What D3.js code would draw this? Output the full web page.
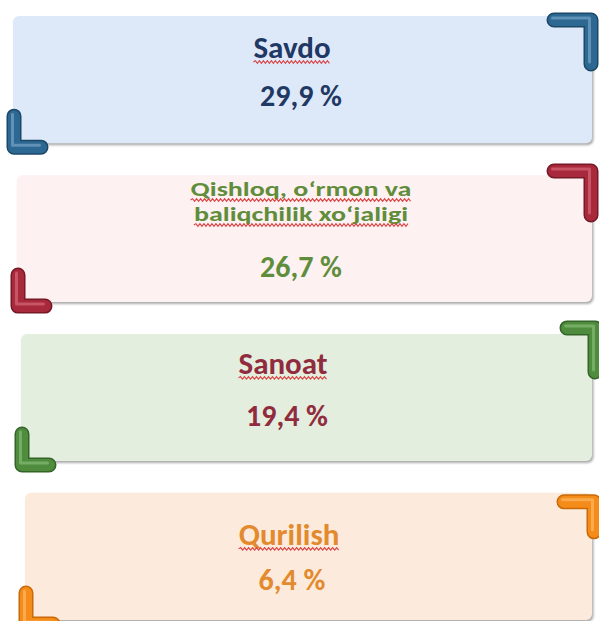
<!DOCTYPE html>
<html>
<head>
<meta charset="utf-8">
<script src="https://cdn.jsdelivr.net/npm/d3@7"></script>
<style>
  html, body { margin: 0; padding: 0; background: #fff; }
  svg { display: block; }
  text { font-family: Carlito, Lato, "Open Sans", sans-serif; font-weight: 700; }
</style>
</head>
<body>
<svg id="chart" width="599" height="621"></svg>
<script>
// sector names and their shares, %
const sectors = ["Savdo", "Qishloq, o‘rmon va\nbaliqchilik xo‘jaligi", "Sanoat", "Qurilish"];
const shares = [29.9, 26.7, 19.4, 6.4];

// colours per card
const fills = ["#dde9f8", "#fdf1f1", "#e3eedf", "#fcebdc"];
const accents = ["#2c6892", "#a8293b", "#4f8c3d", "#f58b18"];
const accentDark = ["#1c4868", "#761a27", "#346428", "#c86a08"];
const accentLight = ["#8ab4d4", "#e27a88", "#95c886", "#ffc77a"];
const textColors = ["#1f3864", "#5f8d3b", "#902c3d", "#e38a2e"];

// small per-card tweaks (text baselines, corner placement)
const layout = [
    { title: [42], value: 90, tx: 292, vx: 301, trY: 4, trV: 44, trH: 37, trX: 591 },
    { title: [21, 46], value: 102, tx: 301, vx: 301, trY: -4, trV: 44, trH: 37, trX: 591 },
    { title: [40], value: 92, tx: 283, vx: 287, trY: -6, trV: 44, trH: 28, trX: 595 },
    { title: [52], value: 97, tx: 289, vx: 292, trY: 9, trV: 30, trH: 30, trX: 594 }
];

const svg = d3.select('#chart');
const fmt = d3.format('.1f');

const y = d3.scaleBand()
    .domain(d3.range(sectors.length))
    .range([16, 620])
    .paddingInner(0.2);

const left = d3.scaleLinear().domain([0, sectors.length - 1]).range([13, 25]);
const right = 592;

// soft shadow under the cards
const defs = svg.append('defs');
defs.append('filter').attr('id', 'soft')
    .attr('x', '-5%').attr('y', '-10%').attr('width', '110%').attr('height', '130%')
    .append('feGaussianBlur').attr('stdDeviation', 1.2);

function wavy(x0, x1, yy) {
    let d = `M${x0},${yy}`;
    let up = true;
    for (let x = x0 + 2; x <= x1; x += 2) {
        d += ` L${x},${yy + (up ? -1.3 : 1.3)}`;
        up = !up;
    }
    return d;
}

sectors.forEach((name, i) => {
    const top = y(i);
    const h = y.bandwidth();
    const x0 = left(i);
    const L = layout[i];
    const g = svg.append('g');

    g.append('rect')
        .attr('x', x0 + 1.5).attr('y', top + 2)
        .attr('width', right - x0).attr('height', h)
        .attr('rx', 6)
        .attr('fill', '#8a8a8a').attr('opacity', 0.7)
        .attr('filter', 'url(#soft)');

    g.append('rect')
        .attr('x', x0).attr('y', top)
        .attr('width', right - x0).attr('height', h)
        .attr('rx', 6)
        .attr('fill', fills[i]);

    // title, one text per line; two-line titles are squeezed like the tight PPT spacing
    const lines = name.split('\n');
    const two = lines.length > 1;
    lines.forEach((ln, k) => {
        const by = top + L.title[k];
        const t = g.append('text')
            .attr('transform', `translate(${L.tx},${by}) scale(1,${two ? 0.74 : 1})`)
            .attr('text-anchor', 'middle')
            .attr('fill', textColors[i])
            .attr('font-size', two ? 28 : 31)
            .attr('font-weight', 700)
            .text(ln);
        const bb = t.node().getBBox();
        g.append('path')
            .attr('d', wavy(L.tx + bb.x, L.tx + bb.x + bb.width, by + 4))
            .attr('fill', 'none')
            .attr('stroke', '#dc3f3f')
            .attr('stroke-width', 1.1);
    });

    g.append('text')
        .attr('x', L.vx).attr('y', top + L.value)
        .attr('text-anchor', 'middle')
        .attr('fill', textColors[i])
        .attr('font-size', 30)
        .text(fmt(shares[i]).replace('.', ',') + ' %');

    // glossy corner brackets
    const cy = top + L.trY;
    const trPath = `M${L.trX - L.trH},${cy} L${L.trX},${cy} L${L.trX},${cy + L.trV}`;
    const by = top + h + 4;
    const bx = x0 + 1;
    const blPath = `M${bx},${by - 31} L${bx},${by} L${bx + 27},${by}`;

    [trPath, blPath].forEach(p => {
        g.append('path').attr('d', p)
            .attr('fill', 'none').attr('stroke', accentDark[i])
            .attr('stroke-width', 15).attr('stroke-linecap', 'round').attr('stroke-linejoin', 'round');
        g.append('path').attr('d', p)
            .attr('fill', 'none').attr('stroke', accents[i])
            .attr('stroke-width', 12).attr('stroke-linecap', 'round').attr('stroke-linejoin', 'round');
        g.append('path').attr('d', p)
            .attr('transform', 'translate(-1.5,-2)')
            .attr('fill', 'none').attr('stroke', accentLight[i]).attr('opacity', 0.55)
            .attr('stroke-width', 3).attr('stroke-linecap', 'round').attr('stroke-linejoin', 'round');
    });
});
</script>
</body>
</html>
